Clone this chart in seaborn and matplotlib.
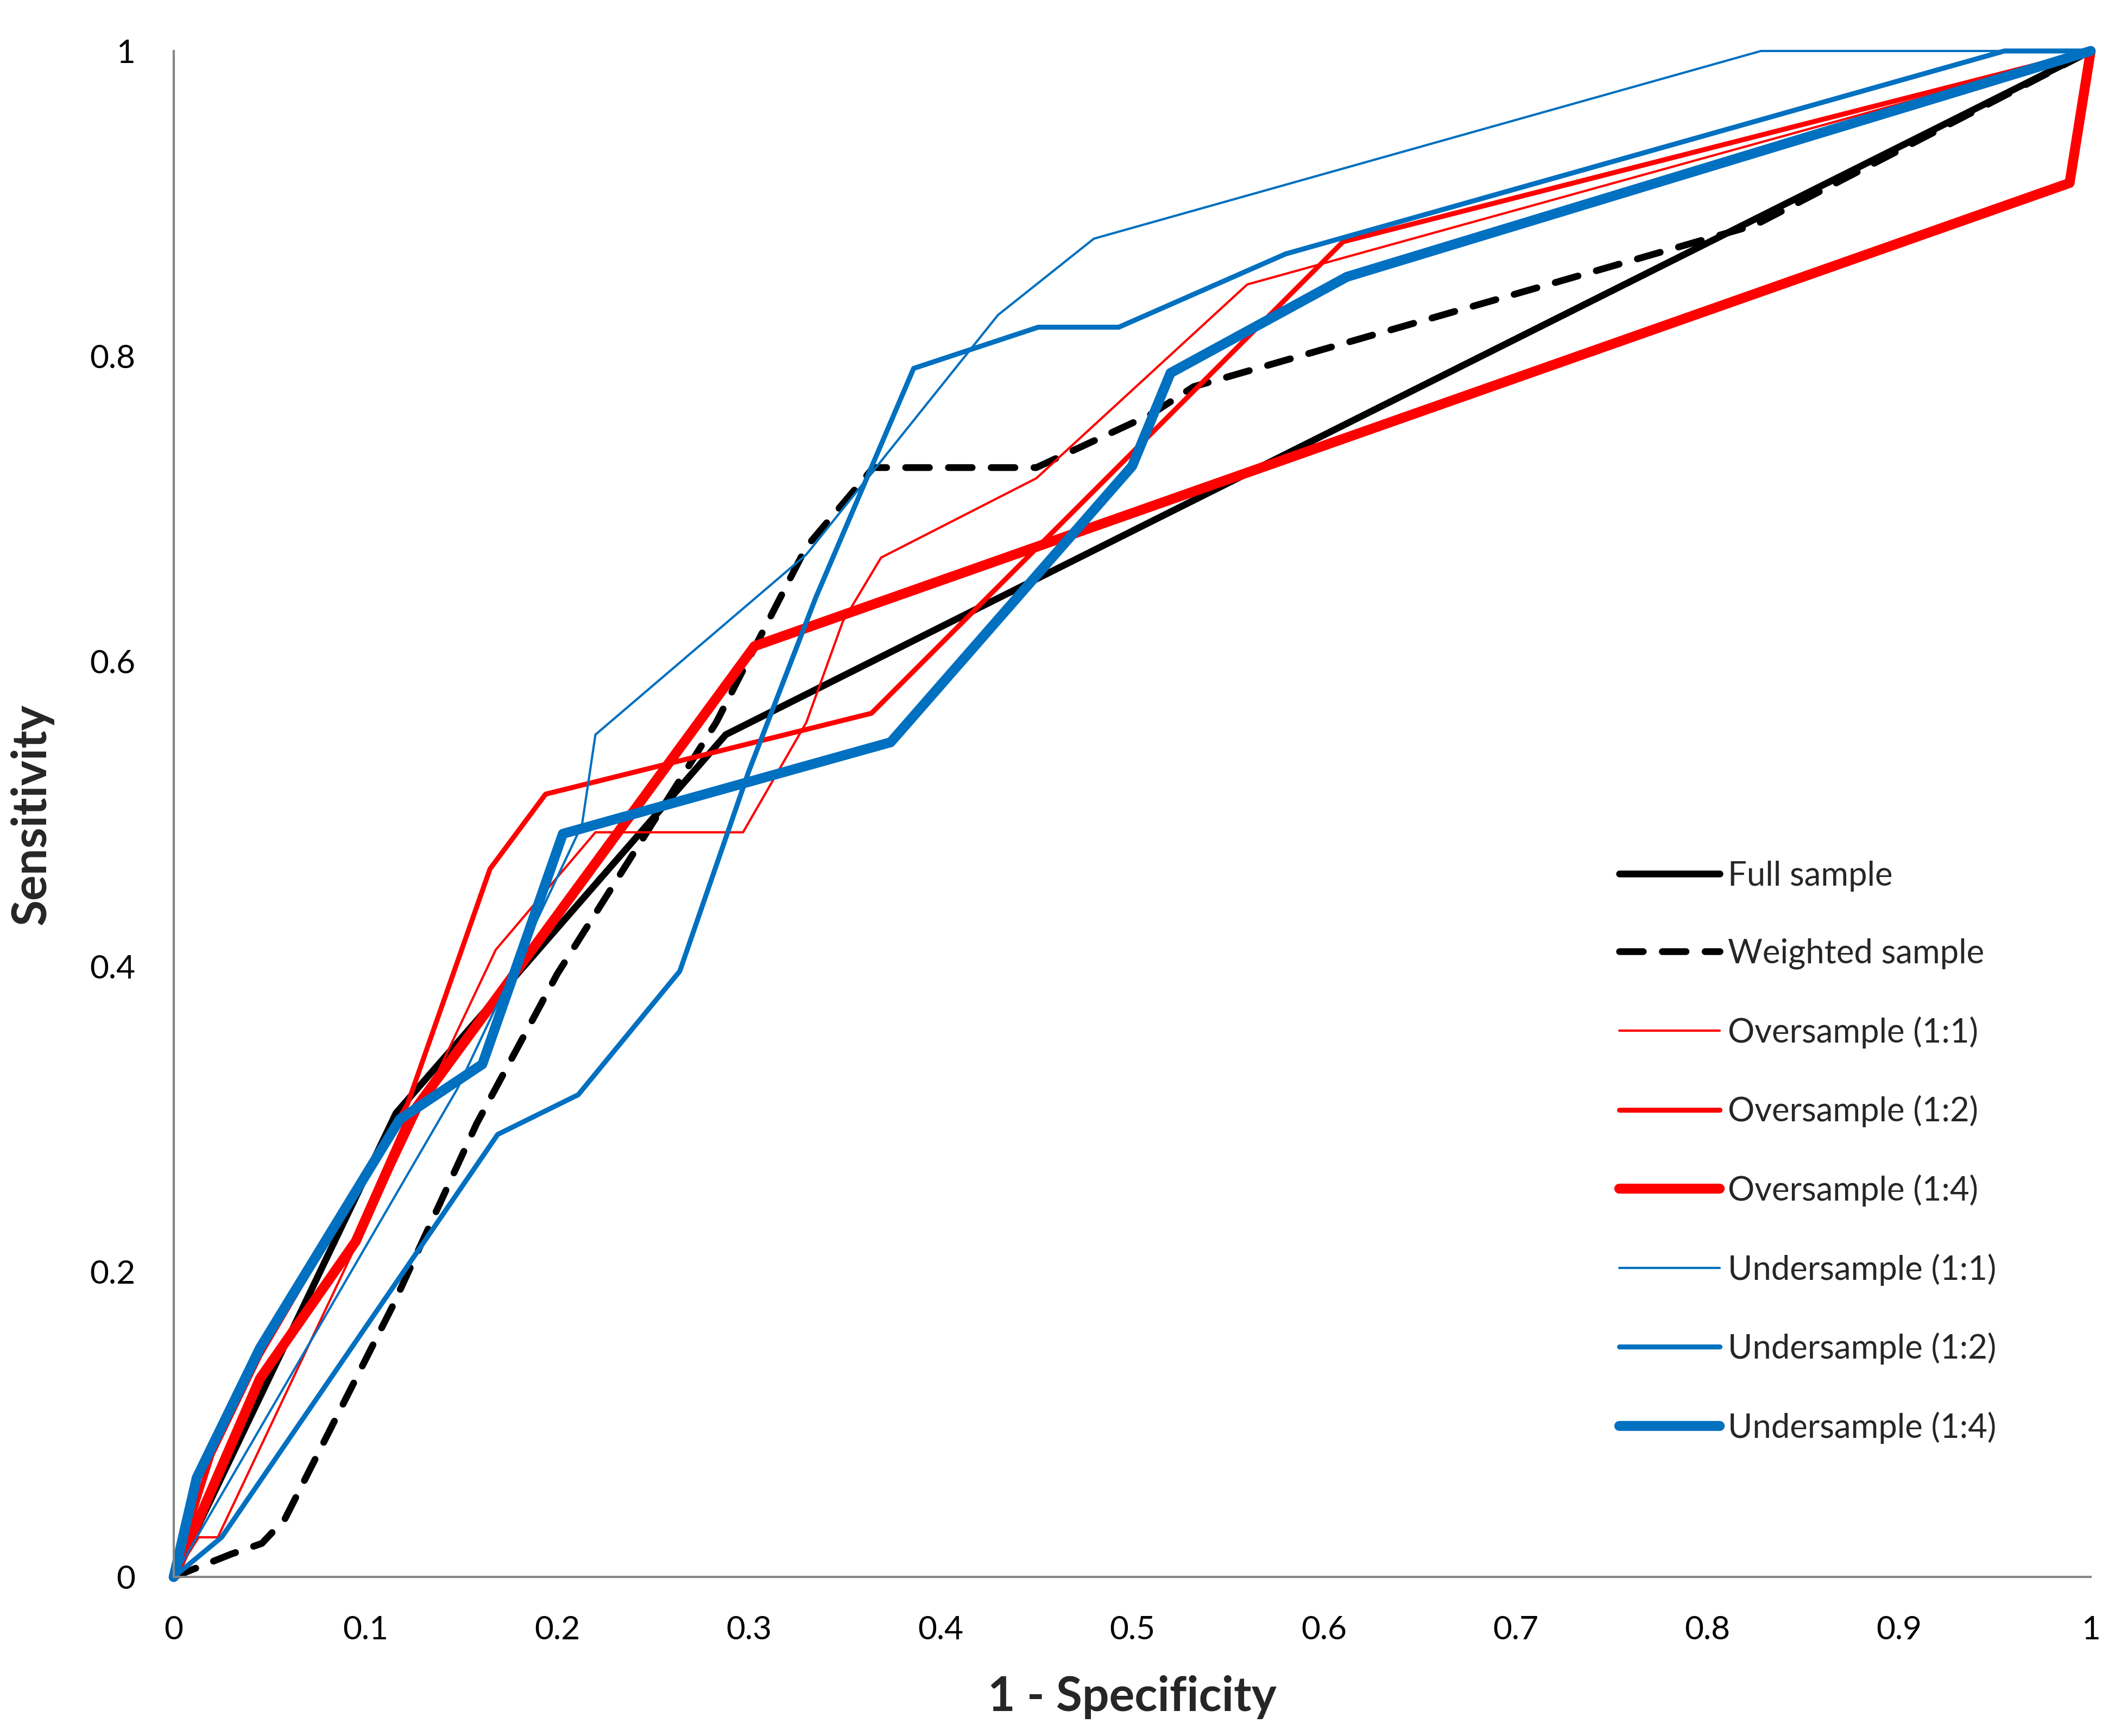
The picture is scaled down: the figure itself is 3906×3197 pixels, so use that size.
import numpy as np
import pandas as pd
import matplotlib
matplotlib.use("Agg")
import matplotlib.pyplot as plt
import seaborn as sns

# ROC curve points (1 - specificity, sensitivity)
full_x = [0, 0.116, 0.288, 1]
full_y = [0, 0.304, 0.552, 1]

weighted_x = [0, 0.03, 0.046, 0.058, 0.114, 0.158, 0.2, 0.283, 0.33, 0.365, 0.45, 0.51, 0.532, 0.825, 1]
weighted_y = [0, 0.015, 0.022, 0.038, 0.177, 0.297, 0.395, 0.56, 0.675, 0.727, 0.727, 0.762, 0.78, 0.886, 1]

over11_x = [0, 0.013, 0.023, 0.168, 0.22, 0.297, 0.33, 0.349, 0.369, 0.45, 0.56, 1]
over11_y = [0, 0.026, 0.026, 0.411, 0.488, 0.488, 0.56, 0.626, 0.668, 0.72, 0.847, 1]

over12_x = [0, 0.02, 0.045, 0.122, 0.165, 0.194, 0.364, 0.61, 1]
over12_y = [0, 0.08, 0.145, 0.31, 0.464, 0.513, 0.566, 0.875, 1]

over14_x = [0, 0.045, 0.095, 0.125, 0.303, 0.989, 1]
over14_y = [0, 0.13, 0.22, 0.305, 0.61, 0.9135, 1]

under11_x = [0, 0.148, 0.213, 0.22, 0.33, 0.43, 0.48, 0.828, 1]
under11_y = [0, 0.32, 0.493, 0.552, 0.67, 0.827, 0.877, 1, 1]

under12_x = [0, 0.025, 0.169, 0.211, 0.264, 0.30, 0.335, 0.386, 0.451, 0.493, 0.58, 0.955, 1]
under12_y = [0, 0.026, 0.29, 0.316, 0.397, 0.528, 0.642, 0.792, 0.819, 0.819, 0.867, 1, 1]

under14_x = [0, 0.012, 0.045, 0.118, 0.161, 0.203, 0.374, 0.5, 0.52, 0.612, 1]
under14_y = [0, 0.065, 0.15, 0.30, 0.336, 0.487, 0.547, 0.728, 0.789, 0.852, 1]

x_ticks = [0, 0.1, 0.2, 0.3, 0.4, 0.5, 0.6, 0.7, 0.8, 0.9, 1]
x_ticklabels = ["0", "0.1", "0.2", "0.3", "0.4", "0.5", "0.6", "0.7", "0.8", "0.9", "1"]
y_ticks = [0, 0.2, 0.4, 0.6, 0.8, 1]
y_ticklabels = ["0", "0.2", "0.4", "0.6", "0.8", "1"]

RED = "#FF0000"
BLUE = "#0070C0"
GREY = "#868686"

sns.set_style("white")
plt.rcParams["font.family"] = ["Lato", "DejaVu Sans"]

fig = plt.figure(figsize=(13.02, 10.657), dpi=300)
ax = fig.add_axes([0.0819, 0.0916, 0.9038, 0.879])

# name, x, y, colour, width, dashed
series = [
    ("Full sample", full_x, full_y, "black", 3.0, False),
    ("Weighted sample", weighted_x, weighted_y, "black", 3.0, True),
    ("Oversample (1:1)", over11_x, over11_y, RED, 1.0, False),
    ("Oversample (1:2)", over12_x, over12_y, RED, 2.2, False),
    ("Oversample (1:4)", over14_x, over14_y, RED, 4.4, False),
    ("Undersample (1:1)", under11_x, under11_y, BLUE, 1.0, False),
    ("Undersample (1:2)", under12_x, under12_y, BLUE, 2.2, False),
    ("Undersample (1:4)", under14_x, under14_y, BLUE, 4.4, False),
]

for name, xs, ys, col, lw, dashed in series:
    df = pd.DataFrame({"fpr": xs, "tpr": ys})
    sns.lineplot(data=df, x="fpr", y="tpr", sort=False, estimator=None,
                 color=col, linewidth=lw, label=name, ax=ax, clip_on=False)
    line = ax.lines[-1]
    if dashed:
        line.set_dashes([3.5, 2.8])
        line.set_dash_capstyle("round")

ax.set_xlim(0, 1)
ax.set_ylim(0, 1)
ax.set_xticks(x_ticks)
ax.set_xticklabels(x_ticklabels)
ax.set_yticks(y_ticks)
ax.set_yticklabels(y_ticklabels)

for side in ["top", "right"]:
    ax.spines[side].set_visible(False)
for side in ["left", "bottom"]:
    ax.spines[side].set_color(GREY)
    ax.spines[side].set_linewidth(1.0)

ax.tick_params(axis="both", direction="out", length=6, width=0.9, color=GREY,
               labelsize=14.5, labelcolor="black", pad=11)

ax.set_xlabel("1 - Specificity", fontsize=21, fontweight="bold", va="center")
ax.set_ylabel("Sensitivity", fontsize=21, fontweight="bold", va="center")
ax.xaxis.set_label_coords(0.5, -0.0786)
ax.yaxis.set_label_coords(-0.074, 0.5)

ax.legend(loc="center left", bbox_to_anchor=(0.754, 0.2785), frameon=False,
          handlelength=3.0, handletextpad=0.25, labelspacing=1.4,
          borderpad=0, borderaxespad=0, fontsize=14.8)

fig.savefig("out.png", dpi=300)
